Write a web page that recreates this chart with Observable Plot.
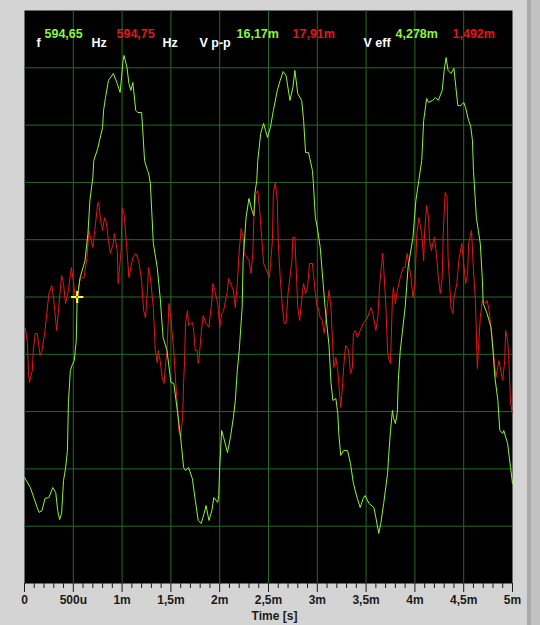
<!DOCTYPE html>
<html><head><meta charset="utf-8">
<script src="https://cdn.jsdelivr.net/npm/d3@7"></script>
<script src="https://cdn.jsdelivr.net/npm/@observablehq/plot@0.6"></script>
<style>
html,body{margin:0;padding:0;background:#d4d4d4;}
#wrap{position:relative;width:540px;height:625px;overflow:hidden;background:#d4d4d4;}
#strip1{position:absolute;left:527px;top:0;width:4px;height:625px;background:#a9a9a9;}
#strip2{position:absolute;left:531px;top:0;width:9px;height:625px;background:#c2c2c2;}
#wrap svg{position:absolute;left:0;top:0;}
</style></head><body><div id="wrap"><div id="strip1"></div><div id="strip2"></div></div>
<script>
// Channel 1 (green), time in ms, voltage in mV
const greenT = [0,0.06,0.13,0.15,0.18,0.21,0.25,0.29,0.32,0.34,0.36,0.38,0.40,0.42,0.44,0.45,0.47,0.49,0.51,0.52,0.53,0.54,0.57,0.62,0.65,0.67,0.70,0.71,0.75,0.80,0.81,0.83,0.86,0.91,0.95,0.98,1.01,1.02,1.05,1.07,1.09,1.11,1.14,1.16,1.20,1.21,1.23,1.26,1.27,1.29,1.32,1.36,1.39,1.42,1.46,1.50,1.53,1.57,1.60,1.63,1.65,1.68,1.72,1.75,1.78,1.81,1.84,1.86,1.89,1.92,1.94,1.98,1.99,2.00,2.02,2.04,2.08,2.11,2.14,2.16,2.18,2.20,2.23,2.24,2.27,2.30,2.33,2.35,2.36,2.38,2.39,2.42,2.45,2.47,2.49,2.52,2.55,2.59,2.62,2.65,2.68,2.72,2.75,2.77,2.80,2.84,2.86,2.88,2.91,2.95,2.96,2.98,3.00,3.03,3.06,3.08,3.12,3.14,3.16,3.19,3.21,3.22,3.24,3.27,3.31,3.34,3.37,3.41,3.44,3.47,3.49,3.53,3.58,3.60,3.63,3.65,3.68,3.72,3.73,3.75,3.77,3.78,3.80,3.82,3.83,3.85,3.90,3.93,3.98,4.01,4.04,4.07,4.09,4.12,4.14,4.18,4.21,4.24,4.28,4.30,4.32,4.34,4.37,4.40,4.42,4.44,4.47,4.50,4.52,4.55,4.57,4.59,4.60,4.63,4.65,4.67,4.69,4.70,4.74,4.78,4.80,4.82,4.85,4.87,4.90,4.91,4.95,4.98,5.00];
const greenV = [-6.30,-6.65,-7.35,-7.52,-7.45,-7.03,-7.00,-6.65,-6.82,-7.45,-7.77,-7.56,-6.40,-5.99,-5.36,-3.68,-2.57,-2.36,-2.22,-1.87,-1.52,-0.02,0.68,1.27,2.22,3.37,4.17,4.76,5.18,5.92,6.51,6.96,7.56,7.80,7.45,7.14,8.25,8.43,8.01,7.45,7.21,7.49,6.51,6.44,6.44,5.92,4.76,4.42,4.35,3.96,1.87,1.03,-0.02,-1.41,-1.87,-2.98,-3.02,-4.07,-4.90,-5.95,-6.06,-5.95,-6.34,-7.10,-7.80,-7.91,-7.56,-7.28,-7.80,-7.45,-7.00,-7.17,-6.93,-5.95,-4.66,-4.90,-5.43,-4.90,-4.21,-3.61,-2.57,-1.87,-0.37,1.27,2.77,3.44,3.02,2.84,3.61,4.07,4.76,5.71,6.06,5.81,5.57,5.93,6.51,7.21,7.56,7.87,7.73,6.86,7.31,7.91,7.10,6.86,6.16,5.04,5.04,4.42,3.96,2.77,2.43,1.73,0.47,-0.37,-1.69,-2.98,-3.61,-3.54,-4.07,-4.76,-5.53,-5.36,-5.36,-5.81,-6.51,-7.03,-7.35,-7.03,-6.93,-7.21,-7.35,-7.70,-8.25,-7.91,-7.21,-6.16,-5.60,-4.66,-3.96,-4.21,-4.42,-4.03,-2.91,-1.87,-0.37,1.03,2.08,3.37,4.07,4.76,6.16,6.93,6.79,6.86,6.96,6.86,7.21,7.91,8.36,7.91,7.80,7.98,7.31,6.68,6.68,6.79,6.61,6.16,5.99,5.46,4.42,2.77,2.32,1.87,0.68,-0.23,-0.58,-1.06,-1.87,-2.81,-3.61,-4.66,-4.76,-4.66,-5.11,-5.95,-6.51];

// Channel 2 (red), time in ms, voltage in mV
const redT = [0.01,0.03,0.04,0.05,0.08,0.09,0.11,0.13,0.16,0.18,0.21,0.25,0.28,0.30,0.33,0.35,0.38,0.40,0.42,0.45,0.48,0.50,0.52,0.54,0.57,0.61,0.64,0.66,0.70,0.72,0.75,0.76,0.78,0.80,0.82,0.84,0.86,0.88,0.91,0.92,0.95,0.96,0.99,1.00,1.02,1.05,1.07,1.11,1.14,1.17,1.20,1.22,1.24,1.26,1.27,1.29,1.32,1.34,1.36,1.37,1.39,1.41,1.43,1.44,1.46,1.48,1.50,1.51,1.53,1.55,1.57,1.58,1.60,1.62,1.63,1.64,1.65,1.67,1.68,1.72,1.73,1.75,1.77,1.78,1.79,1.81,1.83,1.86,1.89,1.92,1.93,1.95,1.98,2.00,2.02,2.04,2.08,2.09,2.12,2.14,2.16,2.18,2.20,2.22,2.24,2.25,2.28,2.30,2.32,2.34,2.35,2.37,2.39,2.41,2.43,2.45,2.48,2.51,2.54,2.55,2.57,2.59,2.60,2.62,2.64,2.66,2.68,2.70,2.74,2.75,2.77,2.79,2.80,2.82,2.85,2.86,2.88,2.90,2.92,2.95,2.96,2.98,3.00,3.01,3.03,3.05,3.07,3.09,3.12,3.14,3.16,3.17,3.19,3.21,3.22,3.24,3.26,3.27,3.29,3.32,3.34,3.36,3.37,3.39,3.41,3.44,3.47,3.51,3.55,3.57,3.60,3.62,3.64,3.67,3.68,3.70,3.72,3.73,3.75,3.77,3.78,3.80,3.82,3.85,3.88,3.90,3.92,3.96,3.98,4.00,4.02,4.04,4.05,4.07,4.09,4.10,4.12,4.14,4.15,4.17,4.19,4.20,4.22,4.24,4.26,4.28,4.29,4.31,4.33,4.34,4.37,4.39,4.40,4.43,4.45,4.48,4.50,4.52,4.54,4.55,4.58,4.60,4.62,4.64,4.65,4.67,4.69,4.72,4.74,4.76,4.79,4.81,4.83,4.86,4.90,4.92,4.93,4.95,4.96,4.98,5.00];
const redV = [-1.10,-1.62,-2.57,-2.98,-2.57,-1.87,-1.27,-1.27,-2.04,-1.87,-1.17,0.12,0.40,-0.12,-1.17,-0.37,0.75,0.47,-0.23,0.23,1.03,0.58,-0.02,-0.12,0.65,0.68,1.38,2.32,1.73,2.32,3.26,3.30,2.67,2.32,2.77,2.57,1.97,1.52,1.87,2.22,1.62,0.47,1.62,3.12,2.91,1.62,0.68,1.38,1.52,1.27,0.58,-0.47,-0.72,0.23,1.03,0.68,-0.37,-1.87,-2.29,-1.87,-2.22,-2.81,-3.02,-2.57,-1.87,-0.23,-0.72,-1.17,-1.87,-3.02,-3.96,-4.66,-4.90,-4.21,-3.02,-2.22,-0.92,-0.47,-0.99,-0.89,-1.06,-1.87,-1.87,-2.32,-2.11,-1.27,-0.65,-0.92,-1.06,-0.12,0.47,0.23,-0.23,-1.06,-0.58,-0.47,0.23,0.65,0.40,0.23,-0.37,0.47,1.62,2.39,2.08,1.52,1.38,1.27,0.82,1.52,2.77,3.61,3.72,3.02,2.08,1.17,0.92,0.68,1.97,3.61,4.00,3.37,1.87,0.68,-0.23,-0.92,-0.92,0.12,1.27,2.08,2.08,0.47,-0.37,-0.82,0.23,0.47,0.12,0.33,1.17,1.17,0.82,0.12,-0.37,-0.37,-0.72,-0.82,-1.27,-0.72,0.23,-0.37,-1.87,-2.46,-2.11,-2.57,-3.02,-3.86,-3.02,-2.46,-1.69,-1.87,-2.67,-2.46,-1.27,-1.17,-1.41,-1.17,-0.92,-0.75,-0.37,-0.58,-1.17,-0.72,0.47,1.52,1.03,-0.12,-1.87,-2.15,-2.32,-0.02,0.33,-0.23,0.23,0.68,1.03,1.03,1.52,0.68,-0.02,0.47,2.22,2.77,2.57,2.22,1.27,2.32,3.19,2.77,1.97,1.62,1.97,2.08,1.52,0.68,0.12,0.68,2.22,3.65,3.47,1.38,-0.37,-0.58,-0.02,0.47,1.27,1.87,1.17,0.47,0.82,1.87,2.32,0.92,-0.12,-2.50,-1.87,-0.72,-0.12,-0.23,-0.12,-0.47,-1.41,-2.11,-2.81,-2.22,-2.91,-2.22,-1.17,-1.52,-1.97,-3.72,-4.07];

// Axis ticks and labels
const majorTicks = [0,0.5,1,1.5,2,2.5,3,3.5,4,4.5,5];
const majorLabels = ["0","500u","1m","1,5m","2m","2,5m","3m","3,5m","4m","4,5m","5m"];
const minorTicks = d3.range(0, 50).map(i => i / 10).filter(t => Math.round(t * 10) % 5 !== 0);
const gridXValues = [0.5,1,1.5,2,2.5,3,3.5,4,4.5];
const gridYValues = [-8,-6,-4,-2,0,2,4,6,8];
const xLabel = "Time [s]";

// Measurement readout
const readoutTexts = ["f","594,65","Hz","594,75","Hz","V p-p","16,17m","17,91m","V eff","4,278m","1,492m"];
const readoutKinds = ["name","ch1","name","ch2","name","name","ch1","ch2","name","ch1","ch2"];

// Cursor
const cursor = [{t: 0.54, v: 0}];

const kindColor = {name: "#ffffff", ch1: "#8cf53c", ch2: "#e3171b"};
// layout of readout (pixel offsets from plot's top-left)
const readoutDx = [12,20,67,92,138,175,212,268,339,371,428];
const readoutDy = {name: 36, ch1: 27, ch2: 27};

const green = greenT.map((t, i) => ({t, v: greenV[i]}));
const red = redT.map((t, i) => ({t, v: redV[i]}));
const labelOf = new Map(majorTicks.map((t, i) => [t, majorLabels[i]]));

const readoutMarks = readoutTexts.map((txt, i) => Plot.text([txt], {
  text: d => d,
  frameAnchor: "top-left",
  dx: readoutDx[i],
  dy: readoutDy[readoutKinds[i]],
  textAnchor: "start",
  lineAnchor: "bottom",
  fill: kindColor[readoutKinds[i]],
  fontSize: 12.5,
  fontWeight: "bold"
}));

const chart = Plot.plot({
  width: 540,
  height: 625,
  marginLeft: 24,
  marginRight: 28,
  marginTop: 10,
  marginBottom: 42,
  style: {background: "transparent", fontFamily: "'Liberation Sans', Arial, sans-serif", fontSize: "12px", fontWeight: "bold", color: "#1b1b1b"},
  x: {domain: [0, 5]},
  y: {domain: [-10, 10], axis: null},
  marks: [
    Plot.frame({fill: "#000000", stroke: null}),
    Plot.gridX(gridXValues, {stroke: "#256b25", strokeOpacity: 1, strokeWidth: 1}),
    Plot.gridY(gridYValues, {stroke: "#256b25", strokeOpacity: 1, strokeWidth: 1}),
    Plot.line(red, {x: "t", y: "v", stroke: "#e3171b", strokeWidth: 1}),
    Plot.line(green, {x: "t", y: "v", stroke: "#8cf53c", strokeWidth: 1}),
    Plot.dot(cursor, {x: "t", y: "v", symbol: "plus", r: 4, stroke: "#ffff3c", strokeWidth: 2.2}),
    Plot.dot(cursor, {x: "t", y: "v", r: 1, fill: "#6a6a20", stroke: null}),
    ...readoutMarks,
    Plot.axisX(minorTicks, {tickSize: 5, tickFormat: () => "", label: null, stroke: "#1b1b1b"}),
    Plot.axisX(majorTicks, {tickSize: 9, tickPadding: 3, tickFormat: d => labelOf.get(d), label: null, stroke: "#1b1b1b", fill: "#1b1b1b", fontWeight: "bold", fontSize: 12}),
    Plot.text([xLabel], {text: d => d, frameAnchor: "bottom", dx: 6, dy: 36, lineAnchor: "bottom", fill: "#1b1b1b", fontWeight: "bold", fontSize: 12})
  ]
});
document.getElementById("wrap").appendChild(chart);
</script>
</body></html>
